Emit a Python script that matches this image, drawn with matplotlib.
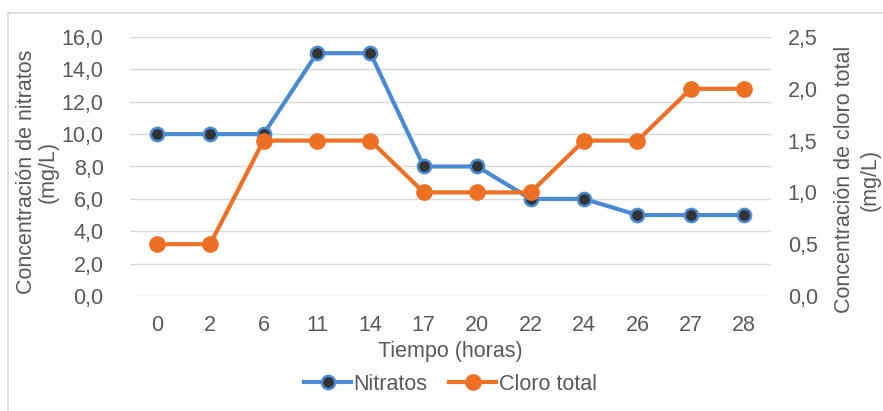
import matplotlib
matplotlib.use("Agg")
import matplotlib.pyplot as plt
from matplotlib.patches import Rectangle
from matplotlib.ticker import FuncFormatter, MultipleLocator

plt.rcParams['font.family'] = ['Liberation Sans', 'DejaVu Sans']

horas = ['0', '2', '6', '11', '14', '17', '20', '22', '24', '26', '27', '28']
nitratos = [10, 10, 10, 15, 15, 8, 8, 6, 6, 5, 5, 5]
cloro_total = [0.5, 0.5, 1.5, 1.5, 1.5, 1.0, 1.0, 1.0, 1.5, 1.5, 2.0, 2.0]

TXT = '#595959'
GRID = '#d9d9d9'
BLUE = '#4a89d3'
ORANGE = '#ed7024'
FS = 15.5

fig = plt.figure(figsize=(8.83, 4.11), dpi=100)
fig.patches.append(Rectangle((8 / 883, -0.1), 1.2, 1 - 13 / 411 + 0.1,
                             transform=fig.transFigure, fill=False,
                             edgecolor=GRID, linewidth=1.2, zorder=0))

ax = fig.add_axes([130 / 883, 1 - 296 / 411, 641 / 883, 259 / 411])
ax2 = ax.twinx()

x = list(range(len(horas)))
ln1, = ax.plot(x, nitratos, color=BLUE, lw=3, marker='o', markersize=9.5,
               markerfacecolor='#333333', markeredgecolor=BLUE,
               markeredgewidth=1.8, label='Nitratos', zorder=3)
ln2, = ax2.plot(x, cloro_total, color=ORANGE, lw=3, marker='o', markersize=11,
                markerfacecolor=ORANGE, markeredgecolor=ORANGE,
                label='Cloro total', zorder=3)

ax.set_xlim(-0.5, len(horas) - 0.5)
ax.set_ylim(0, 16)
ax2.set_ylim(0, 2.5)
ax.yaxis.set_major_locator(MultipleLocator(2))
ax2.yaxis.set_major_locator(MultipleLocator(0.5))
fmt = FuncFormatter(lambda v, p: f'{v:.1f}'.replace('.', ','))
ax.yaxis.set_major_formatter(fmt)
ax2.yaxis.set_major_formatter(fmt)
ax.set_xticks(x)
ax.set_xticklabels(horas)

ax.grid(axis='y', color=GRID, lw=1)
ax.set_axisbelow(True)
for a in (ax, ax2):
    for s in a.spines.values():
        s.set_visible(False)
    a.tick_params(length=0, labelsize=FS, colors=TXT)
ax.tick_params(axis='y', pad=19)
ax.tick_params(axis='x', pad=14)
ax2.tick_params(axis='y', pad=12)

ax.set_xlabel('Tiempo (horas)', fontsize=FS, color=TXT)
ax.xaxis.set_label_coords(0.5, -0.175)
ax.set_ylabel('Concentración de nitratos\n(mg/L)', fontsize=FS, color=TXT,
              linespacing=1.0)
ax.yaxis.set_label_coords(-0.112, 0.48)
ax2.set_ylabel('Concentración de cloro total\n(mg/L)', fontsize=FS, color=TXT,
               linespacing=1.3)
ax2.yaxis.set_label_coords(1.098, 0.45)

fig.legend([ln1, ln2], ['Nitratos', 'Cloro total'], loc='center',
           bbox_to_anchor=(0.51, 1 - 384 / 411), ncol=2, frameon=False,
           fontsize=FS, labelcolor=TXT, handlelength=2.2, handletextpad=0.1,
           columnspacing=1.0)

fig.savefig('out.png', dpi=100)
